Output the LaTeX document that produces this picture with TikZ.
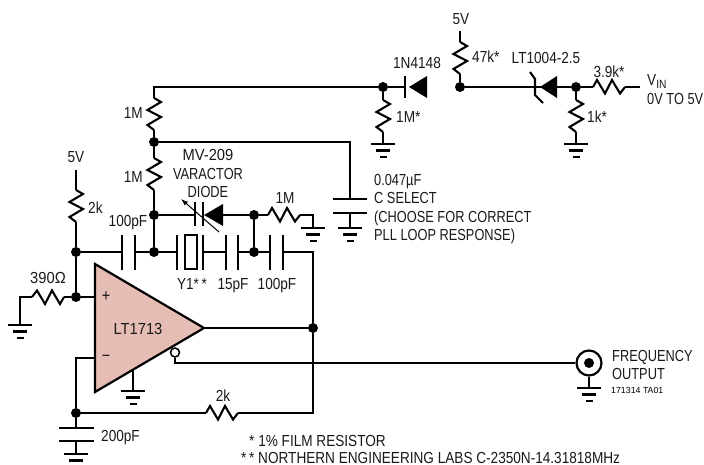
\documentclass[tikz,border=0pt]{standalone}
\usepackage{fontspec}
\usetikzlibrary{arrows.meta}
\setmainfont[FakeStretch=0.85]{Liberation Sans}
\newfontfamily\capsfont[FakeStretch=0.80]{Liberation Sans}
\newfontfamily\widefont[FakeStretch=0.92]{Liberation Sans}
\newfontfamily\tinyfont{Liberation Sans}
\definecolor{opfill}{HTML}{E6BDB5}
\tikzset{
  wire/.style={line width=2.1pt,line cap=butt,line join=miter},
  plate/.style={line width=2.2pt},
  dot/.style={circle,fill=black,inner sep=0pt,minimum size=10pt},
  lab/.style={font=\fontsize{16}{17}\selectfont,inner sep=0pt,text=black!90,text height=11.5pt,text depth=0pt},
  labl/.style={lab,anchor=west},
  labc/.style={labl,font=\capsfont\fontsize{16}{17}\selectfont},
  labw/.style={lab,font=\widefont\fontsize{16}{17}\selectfont},
  resv/.pic={
    \coordinate (-start) at (0,0);
    \coordinate (-end) at (0,32);
    \draw[wire,line join=miter] (0,0) -- (7,4) -- (-6.5,12) -- (7,19) -- (-6.5,27) -- (0,32);
  },
  gnd/.pic={
    \coordinate (-top) at (0,0);
    \draw[plate] (-12,0) -- (12,0) (-7,6.5) -- (7,6.5);
    \draw[plate,line width=2.4pt] (-3.5,12.8) -- (3.5,12.8);
  }
}
\begin{document}
\begin{tikzpicture}[x=1pt,y=-1pt]
\useasboundingbox (0,0) rectangle (704,465);
% junctions
\node[dot] (jtop) at (154,142) {};
\node[dot] (jvar) at (154,215) {};
\node[dot] (jmid) at (154,252) {};
\node[dot] (jplus) at (76,297) {};
\node[dot] (jfive) at (76,252) {};
\node[dot] (jv2) at (254,215) {};
\node[dot] (jc2) at (254,252) {};
\node[dot] (jout) at (313,328) {};
\node[dot] (jfb) at (76,413) {};
\node[dot] (j1m) at (383,87) {};
\node[dot] (j47) at (460,87) {};
\node[dot] (j1k) at (576,87) {};
% free ends and corners
\coordinate (ctop) at (154,87);
\coordinate (cdiode) at (405,87);
\coordinate (czener) at (535,87);
\coordinate (v5a) at (76,170);
\coordinate (v5b) at (460,31);
\coordinate (vin) at (640,87);
\coordinate (capcorner) at (350,142);
\coordinate (capP) at (350,199);
\coordinate (capQ) at (350,213);
\coordinate (capG) at (350,228);
% op amp
\coordinate (oa1) at (95,264);
\coordinate (oa2) at (95,392);
\coordinate (oa3) at (204,328);
\draw[wire,fill=opfill,line width=2.2pt] (oa1) -- (oa3) -- (oa2) -- cycle;
\node[lab,font=\fontsize{17}{17}\selectfont,text height=,text depth=] (plus) at (106,297) {+};
\node[lab,font=\fontsize{17}{17}\selectfont,text height=,text depth=] (minus) at (106,358) {\char"2212};
\node[labw] (oalab) at (138,329) {LT1713};
% resistors
\pic (r1) at (154,98) {resv};
\pic (r2) at (154,158) {resv};
\pic (r3) at (76,190) {resv};
\pic (r4) at (383,100) {resv};
\pic (r5) at (460,42) {resv};
\pic (r6) at (576,100) {resv};
\pic[rotate=-90] (r7) at (64,297) {resv};
\pic[rotate=90] (r8) at (268,215) {resv};
\pic[rotate=90] (r9) at (206,413) {resv};
\pic[rotate=90] (r10) at (593,87) {resv};
% grounds
\pic (g1) at (20,325) {gnd};
\pic (g2) at (313,228) {gnd};
\pic (g3) at (350,228) {gnd};
\pic (g4) at (383,144) {gnd};
\pic (g5) at (576,144) {gnd};
\pic (g6) at (133,391) {gnd};
\pic (g7) at (589,388) {gnd};
\pic (g8) at (76,454) {gnd};
% top wires
\draw[wire] (r1-start) -- (ctop) -- (j1m);
\draw[wire] (j1m) -- (cdiode);
\draw[wire] (j1m) -- (r4-start);
\draw[wire] (r4-end) -- (g4-top);
\draw[wire] (v5b) -- (r5-start);
\draw[wire] (r5-end) -- (j47);
\draw[wire] (j47) -- (czener);
\draw[wire] (czener) -- (j1k);
\draw[wire] (j1k) -- (r10-start);
\draw[wire] (r10-end) -- (vin);
\draw[wire] (j1k) -- (r6-start);
\draw[wire] (r6-end) -- (g5-top);
% ladder
\draw[wire] (r1-end) -- (jtop);
\draw[wire] (jtop) -- (r2-start);
\draw[wire] (r2-end) -- (jvar);
\draw[wire] (jvar) -- (jmid);
\draw[wire] (jtop) -- (capcorner) -- (capP);
\draw[wire] (capQ) -- (capG);
\draw[plate] (333,199) -- (367,199) (333,213) -- (367,213);
% diode 1N4148
\coordinate (d1tip) at (409,87);
\fill (d1tip) -- (427,76) -- (427,98) -- cycle;
\draw[plate] (405,76) -- (405,98);
% zener
\fill (540,87) -- (557,76) -- (557,98) -- cycle;
\draw[wire] (530,72) -- (535,79) -- (535,95) -- (543,103);
% varactor
\coordinate (vplateA) at (195,215);
\draw[wire] (jvar) -- (vplateA);
\draw[plate] (195,202) -- (195,226) (203,202) -- (203,226);
\fill (204,215) -- (223,204) -- (223,226) -- cycle;
\coordinate (vdiode) at (223,215);
\draw[wire] (vdiode) -- (jv2);
\draw[wire] (jv2) -- (r8-start);
\coordinate (c1m) at (313,215);
\draw[wire] (r8-end) -- (c1m) -- (g2-top);
\coordinate (varA) at (219,232);
\coordinate (varB) at (181,199);
\draw[line width=1pt,-{Latex[length=7pt,width=5pt]}] (varA) -- (varB);
% feedback row
\coordinate (c1a) at (122,252);
\coordinate (c1b) at (135,252);
\coordinate (xa) at (177,252);
\coordinate (xb) at (203,252);
\coordinate (c2a) at (226,252);
\coordinate (c2b) at (238,252);
\coordinate (c3a) at (270,252);
\coordinate (c3b) at (283,252);
\coordinate (cright) at (313,252);
\draw[wire] (jfive) -- (c1a);
\draw[wire] (c1b) -- (jmid);
\draw[wire] (jmid) -- (xa);
\draw[wire] (xb) -- (c2a);
\draw[wire] (c2b) -- (jc2);
\draw[wire] (jc2) -- (c3a);
\draw[wire] (c3b) -- (cright) -- (jout);
\draw[wire] (jv2) -- (jc2);
\draw[plate] (122,235) -- (122,270) (135,235) -- (135,270)
  (177,235) -- (177,270) (203,235) -- (203,270)
  (226,235) -- (226,270) (238,235) -- (238,270)
  (270,235) -- (270,270) (283,235) -- (283,270);
\node[draw,line width=2pt,minimum width=12pt,minimum height=33pt,inner sep=0pt] (xtal) at (190.5,252) {};
% left
\draw[wire] (v5a) -- (r3-start);
\draw[wire] (r3-end) -- (jfive);
\draw[wire] (jfive) -- (jplus);
\draw[wire] (jplus) -- (oa1 |- jplus);
\draw[wire] (jplus) -- (r7-start);
\coordinate (c390) at (20,297);
\draw[wire] (r7-end) -- (c390) -- (g1-top);
% op amp terminals
\coordinate (cminus) at (76,358);
\draw[wire] (oa1 |- cminus) -- (cminus) -- (jfb);
\draw[wire] (oa3) -- (jout);
\draw[wire] (jfb) -- (r9-start);
\coordinate (cfb) at (313,413);
\draw[wire] (r9-end) -- (cfb) -- (jout);
\coordinate (ogt) at (133,370);
\draw[wire] (ogt) -- (g6-top);
\node[circle,draw,line width=1.5pt,fill=white,minimum size=9pt,inner sep=0pt] (oc) at (175,352.5) {};
\coordinate (ocd) at (175,363);
\node[circle,draw,line width=2.2pt,minimum size=25pt,inner sep=0pt] (bnc) at (589,363) {};
\node[circle,fill=black,minimum size=10pt,inner sep=0pt] (bncin) at (589,363) {};
\draw[wire] (oc) -- (ocd) -- (bnc);
\draw[wire] (bnc) -- (g7-top);
% 200pF
\draw[wire] (jfb) -- (76,428);
\draw[plate] (59,428) -- (94,428) (59,441) -- (94,441);
\draw[wire] (76,441) -- (g8-top);
% labels
\node[lab] (t5v1) at (76,157) {5V};
\node[lab] (t5v2) at (461,19) {5V};
\node[lab] (t1n) at (417,63) {1N4148};
\node[labl] (t47) at (472,57) {47k*};
\node[lab] (tlt) at (546,58) {LT1004-2.5};
\node[lab] (t39) at (609,72) {3.9k*};
\node[labl] (tvin) at (647,80) {V\raisebox{-3pt}{\fontsize{12}{12}\selectfont IN}};
\node[labc] (tv05) at (647,99) {0V TO 5V};
\node[labl] (t1ms) at (396,117) {1M*};
\node[labl] (t1ks) at (587,117) {1k*};
\node[lab,anchor=east] (t1ma) at (143,113) {1M};
\node[lab,anchor=east] (t1mb) at (143,177) {1M};
\node[labw] (tmv) at (208,155) {MV-209};
\node[lab,font=\capsfont\fontsize{16}{17}\selectfont] (tvar) at (208,173.5) {VARACTOR};
\node[lab,font=\capsfont\fontsize{16}{17}\selectfont] (tdio) at (208,192) {DIODE};
\node[lab] (t1mc) at (285,198) {1M};
\node[labl] (t2ka) at (88,208) {2k};
\node[lab] (t100a) at (128,221) {100pF};
\node[labw] (t390) at (48,278) {390Ω};
\node[lab] (ty1) at (192,284) {Y1*\,*};
\node[lab] (t15) at (233,284) {15pF};
\node[lab] (t100b) at (277,284) {100pF};
\node[lab] (t2kb) at (223,396) {2k};
\node[labl] (t200) at (101,436) {200pF};
\node[labc] (tc1) at (374,180) {0.047µF};
\node[labc] (tc2) at (374,198) {C SELECT};
\node[labc] (tc3) at (374,217) {(CHOOSE FOR CORRECT};
\node[labc] (tc4) at (374,235) {PLL LOOP RESPONSE)};
\node[labc] (tfo1) at (612,356) {FREQUENCY};
\node[labc] (tfo2) at (612,374) {OUTPUT};
\node[anchor=west,inner sep=0pt,font=\tinyfont\fontsize{8.8}{9}\selectfont] (tta) at (611,390) {171314 TA01};
\node[labl] (tn1) at (249,441) {* 1\% FILM RESISTOR};
\node[labl,anchor=base west] (tn2) at (241,463) {*\,* NORTHERN ENGINEERING LABS C-2350N-14.31818MHz};
\end{tikzpicture}
\end{document}
